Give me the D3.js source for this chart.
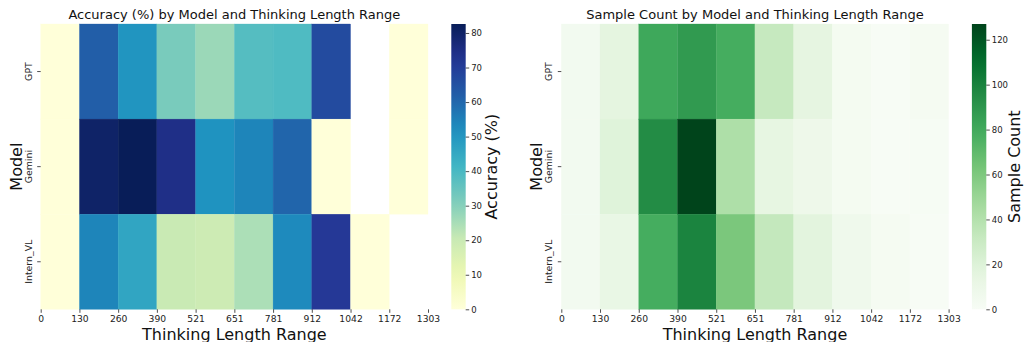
<!DOCTYPE html>
<html>
<head>
<meta charset="utf-8">
<script src="https://cdn.jsdelivr.net/npm/d3@7"></script>
<style>
  body { margin: 0; background: #fff; }
  svg { display: block; font-family: "DejaVu Sans", sans-serif; }
</style>
</head>
<body>
<svg width="1024" height="342"></svg>
<script>
// данные
const models = ["GPT", "Gemini", "Intern_VL"];
const rangeEdges = ["0", "130", "260", "390", "521", "651", "781", "912", "1042", "1172", "1303"];

// точность (%), null = нет выборок
const accGPT = [0, 62, 50.5, 32, 27, 38, 39, 66.7, null, 0];
const accGemini = [0, 80, 82.6, 74.5, 51, 54, 60.5, 0, null, 0];
const accIntern = [0, 54, 46, 20, 19, 24.5, 53, 71.4, 0, null];

// количество выборок
const cntGPT = [4, 16, 81, 88, 78, 32, 15, 3, 0, 2];
const cntGemini = [4, 19, 95, 127, 42, 14, 8, 3, 0, 1];
const cntIntern = [4, 12, 78, 99, 61, 33, 17, 7, 2, 0];

const accTicks = [0, 10, 20, 30, 40, 50, 60, 70, 80];
const cntTicks = [0, 20, 40, 60, 80, 100, 120];

const ylgnbu = ["#ffffd9", "#edf8b1", "#c7e9b4", "#7fcdbb", "#41b6c4", "#1d91c0", "#225ea8", "#253494", "#081d58"];
const greens = ["#f7fcf5", "#e5f5e0", "#c7e9c0", "#a1d99b", "#74c476", "#41ab5d", "#238b45", "#006d2c", "#00441b"];

const svg = d3.select("svg");
const yTop = 24, yBottom = 309.3;

function makeColor(colors, vmax) {
  const s = d3.scaleLinear()
    .domain(colors.map((c, i) => vmax * i / (colors.length - 1)))
    .range(colors)
    .interpolate(d3.interpolateRgb)
    .clamp(true);
  return s;
}

function drawPanel(opt) {
  const g = svg.append("g");
  const x = d3.scaleLinear().domain([0, rangeEdges.length - 1]).range([opt.x0, opt.x0 + 387.3]);
  const y = d3.scaleBand().domain(models).range([yTop, yBottom]);
  const vmax = d3.max(opt.rows.flat().filter(v => v != null));
  const color = makeColor(opt.colors, vmax);

  // ячейки
  const cells = [];
  opt.rows.forEach((row, r) => row.forEach((v, c) => {
    if (v != null) cells.push({model: models[r], col: c, v: v});
  }));
  g.selectAll("rect.cell").data(cells).join("rect")
    .attr("class", "cell")
    .attr("x", d => x(d.col))
    .attr("y", d => y(d.model))
    .attr("width", d => x(d.col + 1) - x(d.col))
    .attr("height", y.bandwidth())
    .attr("fill", d => color(d.v))
    .attr("stroke", d => color(d.v))
    .attr("stroke-width", 0.3);

  // ось X
  const xAxis = d3.axisBottom(x)
    .tickValues(d3.range(rangeEdges.length))
    .tickFormat(i => rangeEdges[i])
    .tickSize(3.5).tickPadding(2.5);
  const gx = g.append("g").attr("transform", `translate(0,${yBottom})`).call(xAxis);
  gx.select(".domain").remove();
  gx.selectAll("text").attr("font-size", 9.2).attr("fill", "#222").attr("font-family", "DejaVu Sans");
  gx.selectAll("line").attr("stroke", "#222").attr("stroke-width", 0.8);

  // ось Y (повернутые подписи)
  const gy = g.append("g");
  models.forEach(m => {
    const yc = y(m) + y.bandwidth() / 2;
    gy.append("line").attr("x1", opt.x0 - 3.5).attr("x2", opt.x0).attr("y1", yc).attr("y2", yc)
      .attr("stroke", "#222").attr("stroke-width", 0.8);
    gy.append("text").attr("transform", `translate(${opt.x0 - 9},${yc}) rotate(-90)`)
      .attr("text-anchor", "middle").attr("font-size", 9.4).attr("fill", "#222").text(m);
  });

  // заголовки
  g.append("text").attr("x", opt.x0 + 387.3 / 2).attr("y", 19)
    .attr("text-anchor", "middle").attr("font-size", 13).attr("fill", "#111").text(opt.title);
  g.append("text").attr("x", opt.x0 + 387.3 / 2).attr("y", 339.5)
    .attr("text-anchor", "middle").attr("font-size", 16).attr("fill", "#111").text("Thinking Length Range");
  g.append("text").attr("transform", `translate(${opt.x0 - 19.2},${(yTop + yBottom) / 2}) rotate(-90)`)
    .attr("text-anchor", "middle").attr("font-size", 16).attr("fill", "#111").text("Model");

  // шкала цвета
  const cbx = opt.x0 + 410.6, cbw = 14.4;
  const cy = d3.scaleLinear().domain([0, vmax]).range([yBottom, yTop]);
  const gradId = "grad" + opt.id;
  const grad = svg.append("defs").append("linearGradient").attr("id", gradId)
    .attr("x1", 0).attr("y1", 1).attr("x2", 0).attr("y2", 0);
  d3.range(0, 1.0001, 0.05).forEach(t => {
    grad.append("stop").attr("offset", t).attr("stop-color", color(t * vmax));
  });
  g.append("rect").attr("x", cbx).attr("y", yTop).attr("width", cbw).attr("height", yBottom - yTop)
    .attr("fill", `url(#${gradId})`);
  const cAxis = d3.axisRight(cy).tickValues(opt.ticks).tickSize(3.5).tickPadding(2);
  const gc = g.append("g").attr("transform", `translate(${cbx + cbw},0)`).call(cAxis);
  gc.select(".domain").remove();
  gc.selectAll("text").attr("font-size", 8.5).attr("fill", "#222").attr("font-family", "DejaVu Sans");
  gc.selectAll("line").attr("stroke", "#222").attr("stroke-width", 0.8);
  g.append("text").attr("transform", `translate(${opt.x0 + opt.cbLabelDx},${(yTop + yBottom) / 2}) rotate(-90)`)
    .attr("text-anchor", "middle").attr("font-size", 16).attr("fill", "#111").text(opt.cbLabel);
}

drawPanel({
  id: "acc", x0: 40.7, rows: [accGPT, accGemini, accIntern], colors: ylgnbu,
  title: "Accuracy (%) by Model and Thinking Length Range",
  cbLabel: "Accuracy (%)", cbLabelDx: 456.3, ticks: accTicks
});
drawPanel({
  id: "cnt", x0: 561.3, rows: [cntGPT, cntGemini, cntIntern], colors: greens,
  title: "Sample Count by Model and Thinking Length Range",
  cbLabel: "Sample Count", cbLabelDx: 458.8, ticks: cntTicks
});
</script>
</body>
</html>
